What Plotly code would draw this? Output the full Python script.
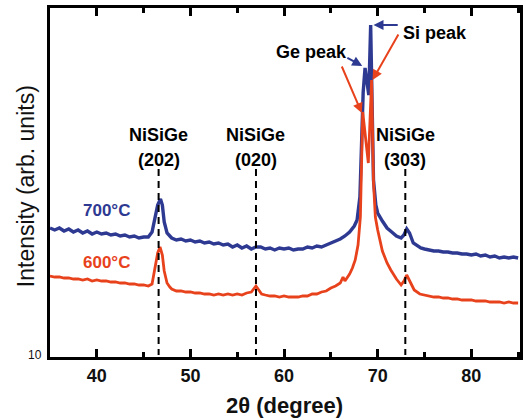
import plotly.graph_objects as go

# 2-theta (degree) and intensity (arb. units) for the two anneal temperatures
theta_700 = [35.0, 35.5, 36.0, 36.5, 37.0, 37.5, 38.0, 38.5, 39.0, 39.5, 40.0, 40.5, 41.0, 41.5, 42.0, 42.5,
             43.0, 43.5, 44.0, 44.5, 45.0, 45.5, 45.9, 46.2, 46.5, 46.8, 47.0, 47.2, 47.5, 47.8, 48.0, 48.5,
             49.0, 49.5, 50.0, 50.5, 51.0, 51.5, 52.0, 52.5, 53.0, 53.5, 54.0, 54.5, 55.0, 55.5, 56.0, 56.5,
             57.0, 57.5, 58.0, 58.5, 59.0, 59.5, 60.0, 60.5, 61.0, 61.5, 62.0, 62.5, 63.0, 63.5, 64.0, 64.5,
             65.0, 65.5, 66.0, 66.5, 67.0, 67.5, 67.8, 68.1, 68.25, 68.45, 68.65, 68.95, 69.05, 69.25, 69.4, 69.55,
             69.8, 70.0, 70.5, 71.0, 71.5, 72.0, 72.5, 72.8, 73.1, 73.4, 73.8, 74.2, 74.6, 75.0, 75.5, 76.0,
             76.5, 77.0, 77.5, 78.0, 78.5, 79.0, 79.5, 80.0, 80.5, 81.0, 81.5, 82.0, 82.5, 83.0, 83.5, 84.0,
             84.5, 85.0]
int_700 = [129, 127, 129, 126, 128, 125, 127, 124, 126, 123, 125, 123, 124, 122, 123, 121,
           122, 120, 121, 119, 120, 120, 125, 139, 152, 158, 152, 135, 124, 121, 119, 117,
           118, 116, 117, 115, 116, 114, 115, 113, 114, 112, 113, 110, 112, 109, 111, 108,
           110, 110, 108, 109, 107, 109, 108, 109, 107, 108, 108, 110, 109, 111, 110, 112,
           114, 116, 118, 121, 125, 131, 137, 160, 200, 265, 289, 268, 262, 332, 240, 177,
           152, 144, 136, 129, 125, 121, 119, 122, 128, 124, 114, 111, 109, 108, 107, 106,
           106, 105, 105, 104, 104, 103, 103, 102, 103, 101, 102, 100, 101, 99, 100, 99,
           100, 99]

theta_600 = [35.0, 35.5, 36.0, 36.5, 37.0, 37.5, 38.0, 38.5, 39.0, 39.5, 40.0, 40.5, 41.0, 41.5, 42.0, 42.5,
             43.0, 43.5, 44.0, 44.5, 45.0, 45.5, 45.9, 46.2, 46.5, 46.75, 47.0, 47.2, 47.5, 47.8, 48.0, 48.5,
             49.0, 49.5, 50.0, 50.5, 51.0, 51.5, 52.0, 52.5, 53.0, 53.5, 54.0, 54.5, 55.0, 55.5, 56.0, 56.5,
             56.8, 57.0, 57.3, 57.6, 58.0, 58.5, 59.0, 59.5, 60.0, 60.5, 61.0, 61.5, 62.0, 62.5, 63.0, 63.5,
             64.0, 64.5, 65.0, 65.5, 66.0, 66.3, 66.5, 67.0, 67.3, 67.6, 67.9, 68.15, 68.4, 69.0, 69.35, 69.55,
             69.75, 70.0, 70.5, 71.0, 71.4, 72.0, 72.5, 72.8, 73.1, 73.4, 73.9, 74.5, 75.0, 75.5, 76.0, 76.5,
             77.0, 77.5, 78.0, 78.5, 79.0, 79.5, 80.0, 80.5, 81.0, 81.5, 82.0, 82.5, 83.0, 83.5, 84.0, 84.5,
             85.0]
int_600 = [81, 80, 80, 79, 79, 78, 78, 77, 78, 76, 77, 76, 76, 75, 75, 74,
           74, 73, 73, 72, 72, 71, 73, 88, 104, 110, 102, 86, 74, 70, 68, 66,
           66, 65, 65, 64, 64, 63, 63, 62, 63, 62, 63, 62, 63, 62, 64, 65,
           69, 71, 67, 63, 62, 61, 61, 60, 61, 60, 60, 60, 61, 61, 63, 63,
           65, 66, 69, 71, 74, 80, 76, 83, 89, 97, 112, 140, 245, 194, 277, 175,
           140, 127, 106, 94, 87, 78, 72, 76, 82, 76, 67, 63, 62, 61, 60, 60,
           59, 59, 58, 58, 57, 57, 57, 56, 56, 56, 55, 55, 55, 54, 55, 54,
           54]

dash_pos = [46.6, 57.0, 72.95]
dash_labels = ["(202)", "(020)", "(303)"]
phase_name = "NiSiGe"

BLUE = "#2E3A92"
RED = "#E8421D"
FONT = "Liberation Sans, Arial, Helvetica, sans-serif"

fig = go.Figure()
fig.add_trace(go.Scatter(x=theta_700, y=int_700, mode="lines",
                         line=dict(color=BLUE, width=3.4), showlegend=False))
fig.add_trace(go.Scatter(x=theta_600, y=int_600, mode="lines",
                         line=dict(color=RED, width=2.8), showlegend=False))

for xp in dash_pos:
    fig.add_shape(type="line", xref="x", yref="y", x0=xp, x1=xp, y0=188, y1=2,
                  line=dict(color="black", width=2, dash="7px,5px"))

ann = []
for xp, lab in zip(dash_pos, dash_labels):
    ann.append(dict(x=xp, y=222, xref="x", yref="y", text=phase_name, showarrow=False,
                    font=dict(size=18, color="black", family=FONT, weight="bold")))
    ann.append(dict(x=xp, y=197, xref="x", yref="y", text=lab, showarrow=False,
                    font=dict(size=18, color="black", family=FONT, weight="bold")))

ann += [
    dict(x=41.0, y=147, xref="x", yref="y", text="700°C", showarrow=False,
         font=dict(size=17, color=BLUE, family=FONT, weight="bold")),
    dict(x=41.0, y=95, xref="x", yref="y", text="600°C", showarrow=False,
         font=dict(size=17, color=RED, family=FONT, weight="bold")),
    dict(x=62.9, y=305, xref="x", yref="y", text="Ge peak", showarrow=False,
         font=dict(size=18, color="black", family=FONT, weight="bold")),
    dict(x=76.1, y=324, xref="x", yref="y", text="Si peak", showarrow=False,
         font=dict(size=18, color="black", family=FONT, weight="bold")),
    # arrows
    dict(x=68.35, y=291, ax=66.6, ay=300, xref="x", yref="y", axref="x", ayref="y",
         text="", showarrow=True, arrowhead=2, arrowsize=1, arrowwidth=2, arrowcolor=BLUE),
    dict(x=68.3, y=244, ax=66.1, ay=292, xref="x", yref="y", axref="x", ayref="y",
         text="", showarrow=True, arrowhead=2, arrowsize=1, arrowwidth=2, arrowcolor=RED),
    dict(x=69.55, y=332, ax=72.3, ay=332, xref="x", yref="y", axref="x", ayref="y",
         text="", showarrow=True, arrowhead=2, arrowsize=1, arrowwidth=2, arrowcolor=BLUE),
    dict(x=69.45, y=277, ax=72.3, ay=324, xref="x", yref="y", axref="x", ayref="y",
         text="", showarrow=True, arrowhead=2, arrowsize=1, arrowwidth=2, arrowcolor=RED),
    # axis titles
    dict(x=-24 / 473, y=(357 - 186) / 349, xref="paper", yref="paper", text="Intensity (arb. units)",
         textangle=-90, showarrow=False, xanchor="center", yanchor="middle",
         font=dict(size=23, color="#111", family=FONT)),
    dict(x=(286 - 50) / 473, y=(357 - 405) / 349, xref="paper", yref="paper", text="2θ (degree)",
         showarrow=False, xanchor="center", yanchor="middle",
         font=dict(size=22, color="#111", family=FONT, weight="bold")),
    dict(x=-15 / 473, y=(357 - 355) / 349, xref="paper", yref="paper", text="10",
         showarrow=False, xanchor="center", yanchor="middle",
         font=dict(size=12, color="#111", family=FONT)),
]

fig.update_layout(
    width=526, height=420,
    margin=dict(l=50, r=3, t=8, b=63),
    paper_bgcolor="white", plot_bgcolor="white",
    annotations=ann,
    xaxis=dict(range=[35, 85.2], tickmode="linear", tick0=0, dtick=10,
               ticks="inside", ticklen=8, tickwidth=3, tickcolor="black",
               showline=True, linewidth=3, linecolor="black", mirror="allticks",
               showgrid=False, zeroline=False,
               tickfont=dict(size=18, color="#111", family=FONT, weight="bold"),
               minor=dict(tickmode="linear", tick0=0, dtick=5, ticks="inside", ticklen=5,
                          tickwidth=3, tickcolor="black", showgrid=False)),
    yaxis=dict(range=[0, 349], showline=True, linewidth=3, linecolor="black", mirror=True,
               ticks="", showticklabels=False, showgrid=False, zeroline=False),
)

fig.write_html("out.html")
